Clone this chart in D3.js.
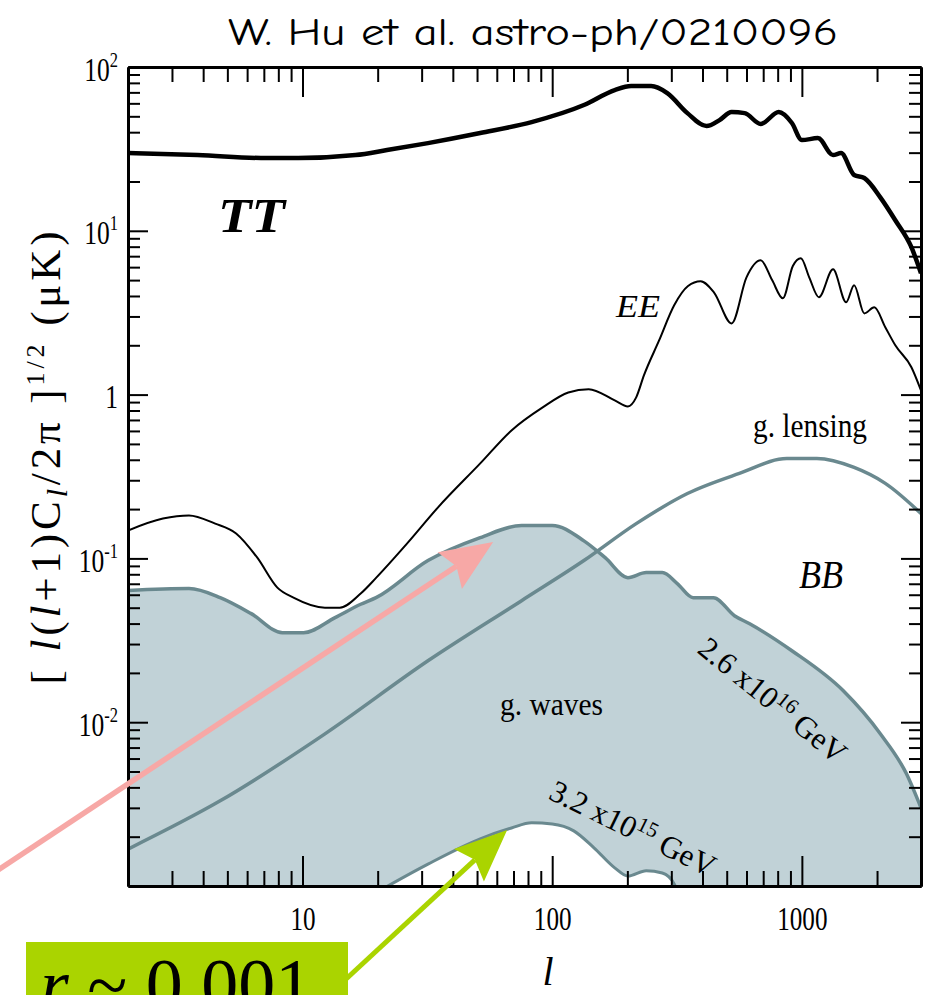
<!DOCTYPE html>
<html>
<head>
<meta charset="utf-8">
<script src="https://cdn.jsdelivr.net/npm/d3@7"></script>
<style>
  body { margin: 0; background: #fff; }
  svg { display: block; }
</style>
</head>
<body>
<svg id="chart" width="926" height="995"></svg>
<script>
// CMB anisotropy spectra, [l(l+1)C_l/2π]^{1/2} in μK, against multipole l

// Temperature (TT)
const ttL = [2, 3.8, 7.2, 9.6, 16.3, 21.8, 31.8, 51.5, 82.7, 134, 178, 207, 249, 289, 348, 415, 468, 523, 590, 684, 808, 912, 1000, 1159, 1333, 1435, 1619, 1778, 2061, 2367, 2746, 3000];
const ttV = [29.8, 29.0, 27.8, 27.8, 29.0, 31.1, 34.3, 39.5, 46.1, 58.6, 72.3, 76.5, 76.5, 69.3, 52.3, 43.6, 47.4, 53.1, 52.3, 44.9, 53.1, 45.5, 35.8, 36.8, 29.0, 29.8, 21.9, 21.0, 16.0, 11.6, 7.94, 5.51];

// E-mode polarization (EE)
const eeL = [2, 2.76, 3.51, 4.47, 5.42, 6.59, 7.93, 9.2, 12.3, 14.1, 17.1, 19.7, 26.2, 34.9, 51.5, 68.7, 91.6, 116, 140, 178, 201, 217, 233, 268, 308, 350, 393, 445, 523, 600, 684, 760, 839, 920, 991, 1070, 1170, 1333, 1504, 1619, 1778, 1950, 2158, 2367, 2746, 3000];
const eeV = [0.148, 0.175, 0.183, 0.163, 0.142, 0.101, 0.0663, 0.0576, 0.050, 0.050, 0.061, 0.076, 0.123, 0.205, 0.380, 0.604, 0.835, 1.03, 1.08, 0.922, 0.847, 0.962, 1.31, 2.14, 3.51, 4.6, 4.92, 4.2, 2.72, 5.2, 6.61, 5.0, 3.87, 6.1, 6.8, 5.2, 3.93, 5.82, 3.66, 4.65, 3.13, 3.41, 2.58, 2.0, 1.47, 1.06];

// Lensing B-modes
const lensL = [2, 4.68, 12.3, 31.8, 75.4, 134, 217, 348, 562, 870, 1148, 1619, 2158, 3000];
const lensV = [0.00168, 0.00331, 0.00849, 0.0237, 0.0552, 0.097, 0.163, 0.249, 0.330, 0.407, 0.407, 0.359, 0.287, 0.188];

// Gravity-wave B-modes, inflation scale 2.6x10^16 GeV
const gwHiL = [2, 3.51, 4.68, 6.23, 8.31, 10.1, 13.5, 17.1, 19.7, 31.8, 51.5, 75.4, 100, 134, 163, 201, 238, 276, 317, 367, 442, 537, 618, 912, 1462, 2061, 2624, 3000];
const gwHiV = [0.0636, 0.0654, 0.0576, 0.046, 0.0352, 0.0352, 0.0435, 0.0525, 0.0576, 0.097, 0.134, 0.159, 0.159, 0.128, 0.101, 0.0763, 0.0819, 0.0819, 0.0702, 0.0576, 0.0576, 0.0447, 0.0399, 0.0273, 0.0156, 0.0085, 0.00484, 0.003];

// Gravity-wave B-modes, inflation scale 3.2x10^15 GeV
const gwLoL = [21.2, 31.8, 51.5, 68.7, 82.7, 100, 122, 147, 178, 201, 238, 276, 308, 323];
const gwLoV = [0.00097, 0.00136, 0.00194, 0.00226, 0.00243, 0.00239, 0.00217, 0.00171, 0.00129, 0.00115, 0.00124, 0.00120, 0.00103, 0.00087];

// Axis ticks and labels
const xTickVals = [10, 100, 1000];
const xTickText = ["10", "100", "1000"];
const yTickVals = [0.01, 0.1, 1, 10, 100];
const yTickBase = ["10", "10", "1", "10", "10"];
const yTickSup = ["-2", "-1", "", "1", "2"];

// Points the annotation arrows aim at, in (l, amplitude)
const pinkTarget = [58, 0.126];
const greenTarget = [66, 0.0022];

const zip = (a, b) => a.map((v, i) => [v, b[i]]);

const svg = d3.select("#chart");
const pLeft = 128, pRight = 921, pTop = 67, pBottom = 886;

const x = d3.scaleLog().domain([2, 3000]).range([pLeft, pRight]);
const y = d3.scaleLog().domain([1e-3, 1e2]).range([pBottom, pTop]);

const serif = "'Liberation Serif', 'Times New Roman', serif";
const fillCol = "#c1d2d7";
const bbCol = "#6a898f";

svg.append("defs").append("clipPath").attr("id", "plotclip")
  .append("rect").attr("x", pLeft).attr("y", pTop)
  .attr("width", pRight - pLeft).attr("height", pBottom - pTop);

const plot = svg.append("g").attr("clip-path", "url(#plotclip)");
const floorV = y.domain()[0] / 10;

const line = d3.line().x(d => x(d[0])).y(d => y(d[1])).curve(d3.curveMonotoneX);
const under = d3.area().x(d => x(d[0])).y0(y(floorV)).y1(d => y(d[1])).curve(d3.curveMonotoneX);

// shaded gravity-wave band: everything under the upper curve ...
plot.append("path").datum(zip(gwHiL, gwHiV)).attr("d", under).attr("fill", fillCol);
// ... minus the region under the lower curve
plot.append("path").datum(zip(gwLoL, gwLoV)).attr("d", under).attr("fill", "#fff");

plot.append("path").datum(zip(lensL, lensV)).attr("d", line)
  .attr("fill", "none").attr("stroke", bbCol).attr("stroke-width", 3.5);
plot.append("path").datum(zip(gwHiL, gwHiV)).attr("d", line)
  .attr("fill", "none").attr("stroke", bbCol).attr("stroke-width", 3.5);
plot.append("path").datum(zip(gwLoL, gwLoV)).attr("d", line)
  .attr("fill", "none").attr("stroke", bbCol).attr("stroke-width", 3);
plot.append("path").datum(zip(eeL, eeV)).attr("d", line)
  .attr("fill", "none").attr("stroke", "#000").attr("stroke-width", 2)
  .attr("stroke-linejoin", "round");
plot.append("path").datum(zip(ttL, ttV)).attr("d", line)
  .attr("fill", "none").attr("stroke", "#000").attr("stroke-width", 4.5)
  .attr("stroke-linejoin", "round");

// minor tick values: 2..9 within each decade
function minors(lo, hi) {
  const out = [];
  for (let e = Math.floor(Math.log10(lo)); e <= Math.ceil(Math.log10(hi)); e++) {
    for (let k = 2; k <= 9; k++) {
      const v = k * Math.pow(10, e);
      if (v > lo * 1.0001 && v < hi * 0.9999) out.push(v);
    }
  }
  return out;
}
const xMinor = minors(2, 3000);
const yMinor = minors(1e-3, 1e2);

function styleAxis(g) {
  g.select(".domain").attr("stroke", "#000").attr("stroke-width", 3);
  g.selectAll(".tick line").attr("stroke", "#000").attr("stroke-width", 2);
}

const axes = svg.append("g");
// bottom
axes.append("g").attr("transform", `translate(0,${pBottom})`)
  .call(d3.axisBottom(x).tickValues(xMinor).tickSize(-15).tickSizeOuter(0).tickFormat(""))
  .call(styleAxis);
const xb = axes.append("g").attr("transform", `translate(0,${pBottom})`)
  .call(d3.axisBottom(x).tickValues(xTickVals).tickSize(-30).tickSizeOuter(0).tickPadding(20)
    .tickFormat((d, i) => xTickText[i]))
  .call(styleAxis);
xb.selectAll(".tick text")
  .attr("font-family", serif).attr("font-size", 34).attr("fill", "#000")
  .attr("transform", "scale(0.74,1)");
// top
axes.append("g").attr("transform", `translate(0,${pTop})`)
  .call(d3.axisTop(x).tickValues(xMinor).tickSize(-15).tickSizeOuter(0).tickFormat(""))
  .call(styleAxis);
axes.append("g").attr("transform", `translate(0,${pTop})`)
  .call(d3.axisTop(x).tickValues(xTickVals).tickSize(-30).tickSizeOuter(0).tickFormat(""))
  .call(styleAxis);
// left
axes.append("g").attr("transform", `translate(${pLeft},0)`)
  .call(d3.axisLeft(y).tickValues(yMinor).tickSize(-12).tickSizeOuter(0).tickFormat(""))
  .call(styleAxis);
const yl = axes.append("g").attr("transform", `translate(${pLeft},0)`)
  .call(d3.axisLeft(y).tickValues(yTickVals).tickSize(-20).tickSizeOuter(0).tickFormat(""))
  .call(styleAxis);
yl.selectAll(".tick").each(function (d, i) {
  const t = d3.select(this).append("text")
    .attr("font-family", serif).attr("font-size", 34).attr("fill", "#000")
    .attr("text-anchor", "end").attr("transform", "scale(0.75,1)")
    .attr("x", -10 / 0.75).attr("y", 13);
  t.append("tspan").text(yTickBase[i]);
  if (yTickSup[i]) t.append("tspan").attr("font-size", 22).attr("dy", -14).text(yTickSup[i]);
});
// right
axes.append("g").attr("transform", `translate(${pRight},0)`)
  .call(d3.axisRight(y).tickValues(yMinor).tickSize(-12).tickSizeOuter(0).tickFormat(""))
  .call(styleAxis);
axes.append("g").attr("transform", `translate(${pRight},0)`)
  .call(d3.axisRight(y).tickValues(yTickVals).tickSize(-20).tickSizeOuter(0).tickFormat(""))
  .call(styleAxis);

// squeeze/stretch a label horizontally to a given width
function fitWidth(sel, w) {
  sel.attr("textLength", w).attr("lengthAdjust", "spacingAndGlyphs");
  return sel;
}

// title
fitWidth(svg.append("text").attr("x", 228).attr("y", 45)
  .attr("font-family", "'Comic Sans MS', 'Comic Neue', Lato, sans-serif")
  .attr("font-size", 38).attr("fill", "#000")
  .text("W. Hu et al. astro-ph/0210096"), 610);

// axis titles
svg.append("text").attr("x", 548).attr("y", 985)
  .attr("font-family", serif).attr("font-style", "italic")
  .attr("font-size", 40).attr("text-anchor", "middle").text("l");

const yt = svg.append("text").attr("transform", "translate(60,456) rotate(-90)")
  .attr("font-family", serif).attr("font-size", 43)
  .attr("text-anchor", "middle").attr("fill", "#000");
yt.append("tspan").text("[ ");
yt.append("tspan").attr("font-style", "italic").text("l");
yt.append("tspan").text("(");
yt.append("tspan").attr("font-style", "italic").text("l");
yt.append("tspan").text("+1)C");
yt.append("tspan").attr("font-style", "italic").attr("font-size", 30).attr("dy", 7).text("l");
yt.append("tspan").attr("dy", -7).text("/2π ]");
yt.append("tspan").attr("font-size", 26).attr("dy", -16).text("1/2");
yt.append("tspan").attr("dy", 16).text(" (μK)");
{
  // spread the letters so the title runs the same length as the axis span
  const bw = yt.node().getComputedTextLength();
  const n = yt.text().length;
  yt.attr("letter-spacing", Math.max(0, (457 - bw) / n));
}

// curve labels
fitWidth(svg.append("text").attr("x", 218).attr("y", 232)
  .attr("font-family", serif).attr("font-weight", "bold").attr("font-style", "italic")
  .attr("font-size", 48).text("TT"), 67);
fitWidth(svg.append("text").attr("x", 616).attr("y", 317)
  .attr("font-family", serif).attr("font-style", "italic")
  .attr("font-size", 32).text("EE"), 44);
fitWidth(svg.append("text").attr("x", 753).attr("y", 437)
  .attr("font-family", serif).attr("font-size", 33).text("g. lensing"), 114);
fitWidth(svg.append("text").attr("x", 799).attr("y", 588)
  .attr("font-family", serif).attr("font-style", "italic")
  .attr("font-size", 40).text("BB"), 44);
fitWidth(svg.append("text").attr("x", 500).attr("y", 715)
  .attr("font-family", serif).attr("font-size", 31).text("g. waves"), 103);

function scaleLabel(cx, cy, angle, mant, exp, size) {
  const t = svg.append("text")
    .attr("transform", `translate(${cx},${cy}) rotate(${angle})`)
    .attr("font-family", serif).attr("font-size", size)
    .attr("text-anchor", "middle").attr("dy", "0.35em");
  t.append("tspan").text(mant + " x10");
  t.append("tspan").attr("font-size", size * 0.68).attr("dy", -11).text(exp);
  t.append("tspan").attr("dy", 11).text(" GeV");
  return t;
}
scaleLabel(773, 700, 39, "2.6", "16", 31);
scaleLabel(633, 828, 26, "3.2", "15", 31);

// annotation arrows
function arrow(tail, tip, color, width) {
  const dx = tip[0] - tail[0], dy = tip[1] - tail[1];
  const len = Math.hypot(dx, dy), ux = dx / len, uy = dy / len;
  const nx = -uy, ny = ux, L = 52, Wd = 22, notch = 8;
  const bx = tip[0] - L * ux, by = tip[1] - L * uy;
  svg.append("line")
    .attr("x1", tail[0]).attr("y1", tail[1])
    .attr("x2", bx + notch * ux).attr("y2", by + notch * uy)
    .attr("stroke", color).attr("stroke-width", width);
  svg.append("path")
    .attr("d", `M${tip[0]},${tip[1]}L${bx + Wd * nx},${by + Wd * ny}L${bx + notch * ux},${by + notch * uy}L${bx - Wd * nx},${by - Wd * ny}Z`)
    .attr("fill", color);
}
arrow([-2, 870], [x(pinkTarget[0]), y(pinkTarget[1])], "#f7a8a6", 5.5);

// r annotation box
svg.append("rect").attr("x", 26).attr("y", 942).attr("width", 322).attr("height", 70)
  .attr("fill", "#aad400");
arrow([345, 980], [x(greenTarget[0]), y(greenTarget[1])], "#aad400", 5);
const rt = svg.append("text").attr("x", 40).attr("y", 1010)
  .attr("font-family", serif).attr("font-size", 74).attr("fill", "#000");
rt.append("tspan").attr("font-style", "italic").text("r");
rt.append("tspan").text(" ~ 0.001");
</script>
</body>
</html>
